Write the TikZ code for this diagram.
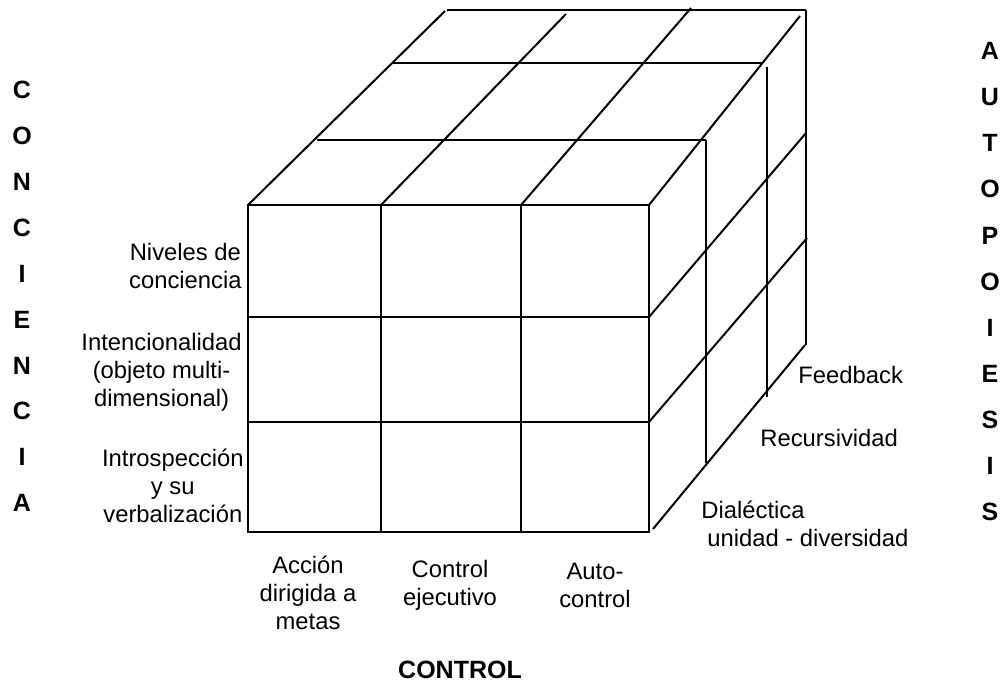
\documentclass[tikz,border=0pt]{standalone}
\usepackage{fontspec}
\setmainfont{Liberation Sans}
\usepackage{tikz}

\begin{document}
\begin{tikzpicture}[
    x=0.5pt, y=-0.5pt,
    font=\fontsize{11.9}{14}\selectfont,
    % Styles
    edge/.style={draw=black, line width=1pt},
    lbl/.style={align=center, inner sep=0pt},
    axisletter/.style={font=\fontsize{12.5}{14}\selectfont\bfseries, inner sep=0pt},
    axisname/.style={font=\fontsize{12.5}{14}\selectfont\bfseries, inner sep=0pt}
]
\useasboundingbox (0,0) rectangle (1003,698);

% --- Front face ---
\draw[edge] (248,205) rectangle (649,532);
\foreach \cx in {381,521}
    \draw[edge] (\cx,205) -- (\cx,532);
\foreach \ry in {317,422}
    \draw[edge] (248,\ry) -- (649,\ry);

% --- Top face ---
\draw[edge] (447,10) -- (806,10);
\draw[edge] (392,63) -- (763,63);
\draw[edge] (317,140) -- (706,140);
\draw[edge] (248,205) -- (445,11);
\draw[edge] (381,205) -- (566,14);
\draw[edge] (521,205) -- (691,8);
\draw[edge] (649,205) -- (800,16);

% --- Right face ---
\draw[edge] (706,140) -- (706,463);
\draw[edge] (767,67) -- (767,397);
\draw[edge] (806,10) -- (806,345);
\draw[edge] (649,317) -- (806,133);
\draw[edge] (649,422) -- (807,238);
\draw[edge] (653,529) -- (805,345);

% --- Rows: conciencia ---
\node[lbl, anchor=east] (niveles) at (242,266) {Niveles de\\conciencia};
\node[lbl, anchor=east] (intenc) at (242,372) {Intencionalidad\\(objeto multi-\\dimensional)};
\node[lbl, anchor=east] (intros) at (244,486) {Introspección\\y su\\verbalización};

% --- Columns: control ---
\node[lbl, anchor=north] (accion) at (308,556) {Acción\\dirigida a\\metas};
\node[lbl, anchor=north] (ejec) at (450,560) {Control\\ejecutivo};
\node[lbl, anchor=north] (autoc) at (595,563) {Auto-\\control};

% --- Depth: autopoiesis ---
\node[lbl, anchor=west] (feedb) at (798,375) {Feedback};
\node[lbl, anchor=west] (recurs) at (760,438) {Recursividad};
\node[lbl, anchor=west, align=left] (dialec) at (701,524) {Dialéctica\\\hspace{3pt}unidad - diversidad};

% --- Axis names ---
\foreach \ch [count=\i from 0] in {C,O,N,C,I,E,N,C,I,A}
    \node[axisletter] (con\i) at (22,{90+45.9*\i}) {\ch};
\foreach \ch [count=\i from 0] in {A,U,T,O,P,O,I,E,S,I,S}
    \node[axisletter] (aut\i) at (990,{51+46.1*\i}) {\ch};
\node[axisname] (control) at (460,670) {CONTROL};

\end{tikzpicture}
\end{document}
